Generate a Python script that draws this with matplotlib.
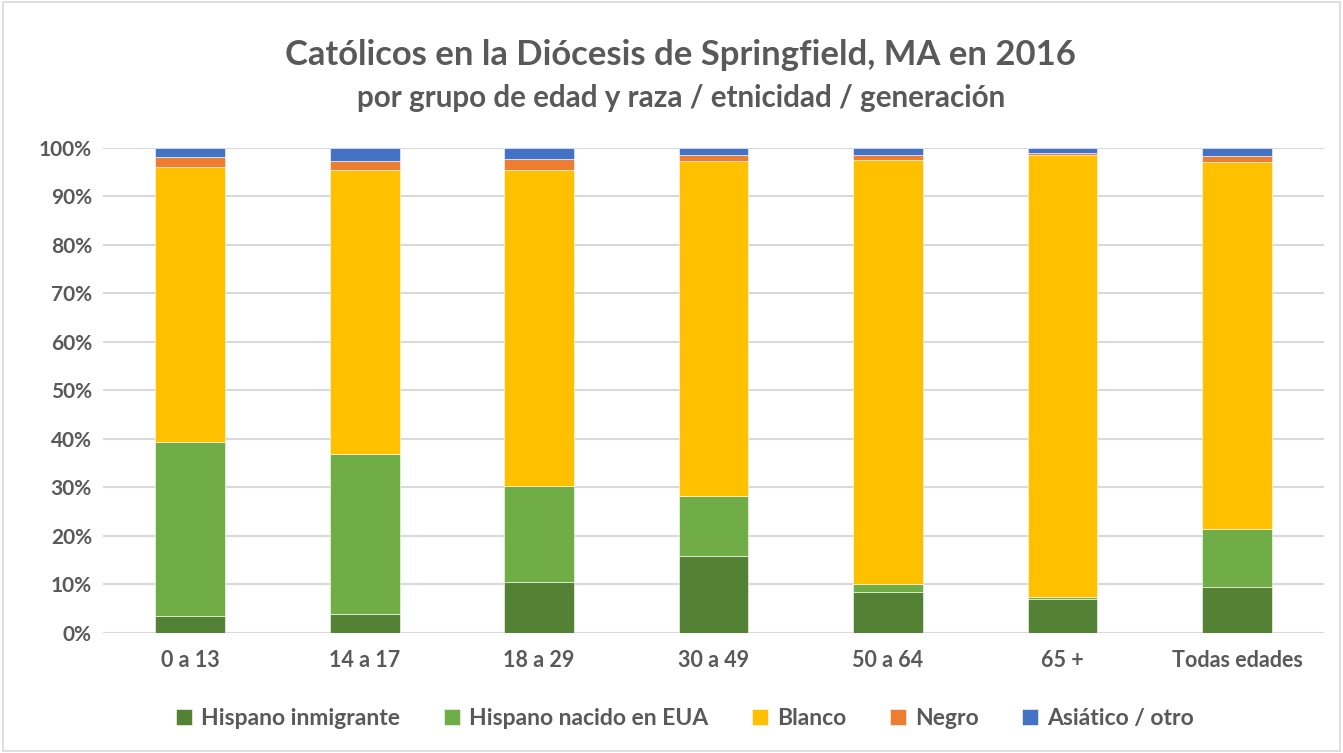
import numpy as np
import matplotlib.pyplot as plt
from matplotlib.patches import Rectangle
from matplotlib.ticker import PercentFormatter

plt.rcParams['font.family'] = ['Lato', 'DejaVu Sans']

categories = ["0 a 13", "14 a 17", "18 a 29", "30 a 49", "50 a 64", "65 +", "Todas edades"]
hispano_inmigrante = [3.4, 3.9, 10.5, 15.9, 8.5, 7.0, 9.4]
hispano_nacido = [36.0, 33.0, 19.7, 12.4, 1.7, 0.4, 12.1]
blanco = [56.6, 58.5, 65.2, 69.1, 87.4, 91.05, 75.6]
negro = [2.1, 1.9, 2.3, 1.2, 0.9, 0.55, 1.3]
asiatico = [1.9, 2.7, 2.3, 1.4, 1.5, 1.0, 1.6]

series = [
    ("Hispano inmigrante", hispano_inmigrante, "#548235"),
    ("Hispano nacido en EUA", hispano_nacido, "#70AD47"),
    ("Blanco", blanco, "#FFC000"),
    ("Negro", negro, "#ED7D31"),
    ("Asiático / otro", asiatico, "#4472C4"),
]

fig = plt.figure(figsize=(13.43, 7.53), dpi=100)
ax = fig.add_axes([0.0767, 0.1594, 0.9093, 0.6441])

x = np.arange(len(categories))
bottom = np.zeros(len(categories))
for name, vals, color in series:
    vals = np.array(vals) / 100
    ax.bar(x, vals, width=0.4, bottom=bottom, color=color, label=name,
           edgecolor="white", linewidth=0.4, zorder=3)
    bottom += vals

ax.set_xlim(-0.5, len(categories) - 0.5)
ax.set_ylim(0, 1)
ax.set_yticks(np.arange(0, 1.01, 0.1))
ax.yaxis.set_major_formatter(PercentFormatter(1.0, decimals=0))
ax.grid(axis="y", color="#D9D9D9", linewidth=1.5, zorder=0)
for s in ax.spines.values():
    s.set_visible(False)
ax.tick_params(length=0, labelcolor="#595959")
ax.tick_params(axis="y", labelsize=15, pad=8)
ax.tick_params(axis="x", labelsize=15.5, pad=12)
ax.set_xticks(x)
ax.set_xticklabels(categories)
for lbl in ax.get_xticklabels() + ax.get_yticklabels():
    lbl.set_fontweight("bold")

fig.text(0.507, 0.927, "Católicos en la Diócesis de Springfield, MA en 2016",
         ha="center", va="center", fontsize=24.9, fontweight="bold", color="#595959")
fig.text(0.507, 0.870, "por grupo de edad y raza / etnicidad / generación",
         ha="center", va="center", fontsize=21.3, fontweight="bold", color="#595959")

leg = fig.legend(loc="center", bbox_to_anchor=(0.51, 0.046), ncol=5, frameon=False,
                 fontsize=16.5, handlelength=0.7, handleheight=0.7, handletextpad=0.4,
                 columnspacing=1.9)
for t in leg.get_texts():
    t.set_color("#595959")
    t.set_fontweight("bold")

fig.patches.append(Rectangle((0.002, 0.002), 0.996, 0.996, transform=fig.transFigure,
                             fill=False, edgecolor="#D9D9D9", linewidth=1.2))

fig.savefig("out.png", dpi=100, facecolor="white")
